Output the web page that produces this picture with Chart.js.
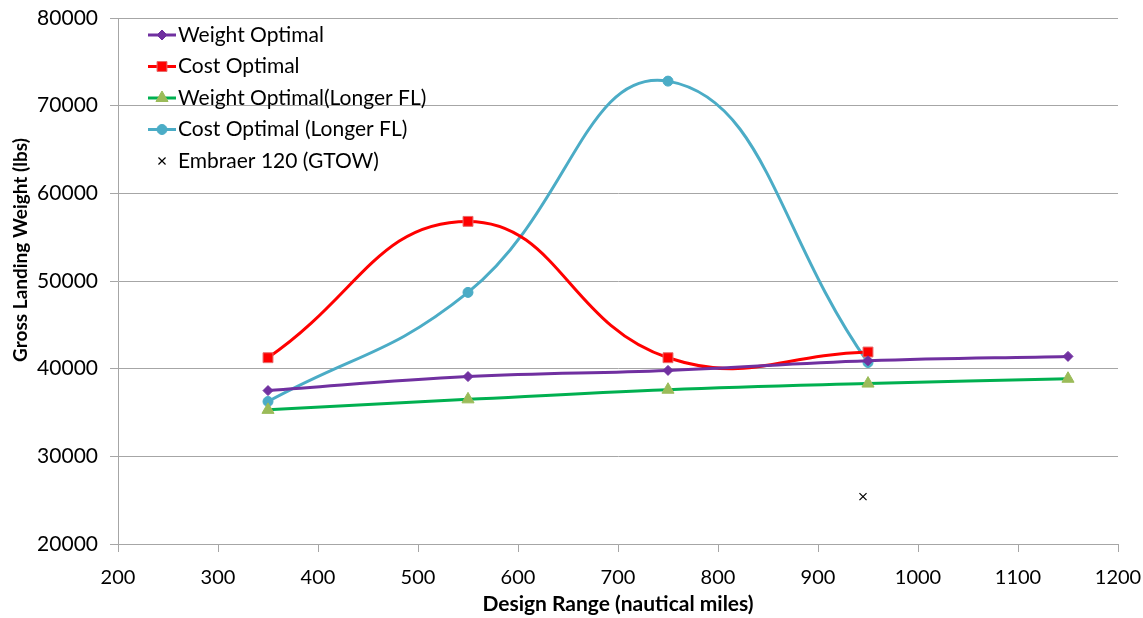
<!DOCTYPE html>
<html>
<head>
<meta charset="utf-8">
<script src="https://cdn.jsdelivr.net/npm/chart.js@4/dist/chart.umd.min.js"></script>
<style>
  html, body { margin: 0; padding: 0; background: #fff; }
  #wrap { width: 1143px; height: 618px; }
</style>
</head>
<body>
<div id="wrap"><canvas id="chart" width="1143" height="618"></canvas></div>
<script>
// design range (nautical miles)
var ranges = [350, 550, 750, 950, 1150];
var weightOptimal = [37500, 39100, 39800, 40900, 41400];
var costOptimal = [41250, 56800, 41250, 41900];
var weightOptimalLongFL = [35300, 36500, 37600, 38300, 38850];
var costOptimalLongFL = [36250, 48700, 72800, 40700];
var embraerRange = [945];
var embraerGTOW = [25400];
var yTicks = [20000, 30000, 40000, 50000, 60000, 70000, 80000];

var xTitle = 'Design Range (nautical miles)';
var yTitle = 'Gross Landing Weight (lbs)';

function pts(xs, ys) {
  return ys.map(function(y, i) { return { x: xs[i], y: y }; });
}

var txtFont = "Lato, 'Open Sans', sans-serif";

// legend inside the plot + axis titles (placed like the excel original)
var extras = {
  id: 'extras',
  afterDraw: function(chart) {
    var ctx = chart.ctx;
    var x0 = 148, y0 = 35, step = 31.5;
    ctx.save();
    chart.data.datasets.forEach(function(ds, i) {
      var y = y0 + i * step;
      if (ds.showLine !== false) {
        ctx.strokeStyle = ds.borderColor;
        ctx.lineWidth = 3;
        ctx.beginPath();
        ctx.moveTo(x0, y);
        ctx.lineTo(x0 + 28, y);
        ctx.stroke();
      }
      ctx.fillStyle = ds.pointBackgroundColor;
      ctx.strokeStyle = ds.pointBorderColor;
      ctx.lineWidth = ds.pointBorderWidth;
      Chart.helpers.drawPoint(ctx, {
        pointStyle: ds.pointStyle,
        radius: ds.pointRadius,
        rotation: 0,
        borderWidth: ds.pointBorderWidth
      }, x0 + 14, y);
      ctx.fillStyle = '#000';
      ctx.font = '21px ' + txtFont;
      ctx.textBaseline = 'middle';
      ctx.textAlign = 'left';
      ctx.fillText(ds.label, x0 + 30, y);
    });

    var area = chart.chartArea;
    ctx.fillStyle = '#000';
    ctx.textAlign = 'center';
    ctx.textBaseline = 'middle';
    ctx.font = 'bold 21px ' + txtFont;
    ctx.fillText(xTitle, (area.left + area.right) / 2, 604);

    ctx.translate(21, 250);
    ctx.rotate(-Math.PI / 2);
    ctx.font = 'bold 19px ' + txtFont;
    ctx.fillText(yTitle, 0, 0);
    ctx.restore();
  }
};

new Chart(document.getElementById('chart'), {
  type: 'line',
  data: {
    datasets: [
      {
        label: 'Weight Optimal',
        data: pts(ranges, weightOptimal),
        borderColor: '#7030A0',
        borderWidth: 3,
        pointStyle: 'rectRot',
        pointRadius: 5,
        pointBackgroundColor: '#7030A0',
        pointBorderColor: '#7030A0',
        pointBorderWidth: 1,
        tension: 0.4
      },
      {
        label: 'Cost Optimal',
        data: pts(ranges, costOptimal),
        borderColor: '#FF0000',
        borderWidth: 3,
        pointStyle: 'rect',
        pointRadius: 7,
        pointBackgroundColor: '#FF0000',
        pointBorderColor: '#E86A6A',
        pointBorderWidth: 1,
        tension: 0.45
      },
      {
        label: 'Weight Optimal(Longer FL)',
        data: pts(ranges, weightOptimalLongFL),
        borderColor: '#00B050',
        borderWidth: 3,
        pointStyle: 'triangle',
        pointRadius: 7,
        pointBackgroundColor: '#9BBB59',
        pointBorderColor: '#9BBB59',
        pointBorderWidth: 1,
        tension: 0.4
      },
      {
        label: 'Cost Optimal (Longer FL)',
        data: pts(ranges, costOptimalLongFL),
        borderColor: '#4BACC6',
        borderWidth: 3,
        pointStyle: 'circle',
        pointRadius: 5,
        pointBackgroundColor: '#4BACC6',
        pointBorderColor: '#4BACC6',
        pointBorderWidth: 1,
        tension: 0.45
      },
      {
        label: 'Embraer 120 (GTOW)',
        data: pts(embraerRange, embraerGTOW),
        showLine: false,
        borderColor: '#000',
        pointStyle: 'crossRot',
        pointRadius: 5,
        pointBackgroundColor: '#000',
        pointBorderColor: '#000',
        pointBorderWidth: 1.2
      }
    ]
  },
  options: {
    responsive: false,
    animation: false,
    layout: { padding: { left: 0, top: 18, right: 25, bottom: 0 } },
    plugins: {
      legend: { display: false },
      tooltip: { enabled: false }
    },
    scales: {
      x: {
        type: 'linear',
        min: 200,
        max: 1200,
        afterBuildTicks: function(s) {
          s.ticks = [];
          for (var v = 200; v <= 1200; v += 100) s.ticks.push({ value: v });
        },
        afterFit: function(s) {
          s.height = 74;
          s.paddingLeft = 0;
          s.paddingRight = 0;
        },
        grid: { drawOnChartArea: false, color: '#a6a6a6', tickLength: 8 },
        border: { color: '#a6a6a6', width: 1 },
        ticks: {
          color: '#000',
          font: { family: txtFont, size: 20 },
          padding: 14,
          maxRotation: 0,
          callback: function(v) { return String(v); }
        }
      },
      y: {
        min: 20000,
        max: 80000,
        afterBuildTicks: function(s) {
          s.ticks = yTicks.map(function(v) { return { value: v }; });
        },
        afterFit: function(s) {
          s.width = 118;
          s.paddingTop = 0;
          s.paddingBottom = 0;
        },
        grid: { color: '#a6a6a6', tickLength: 8 },
        border: { color: '#a6a6a6', width: 1 },
        ticks: {
          color: '#000',
          font: { family: txtFont, size: 21 },
          padding: 12,
          callback: function(v) { return String(v); }
        }
      }
    }
  },
  plugins: [extras]
});
</script>
</body>
</html>
